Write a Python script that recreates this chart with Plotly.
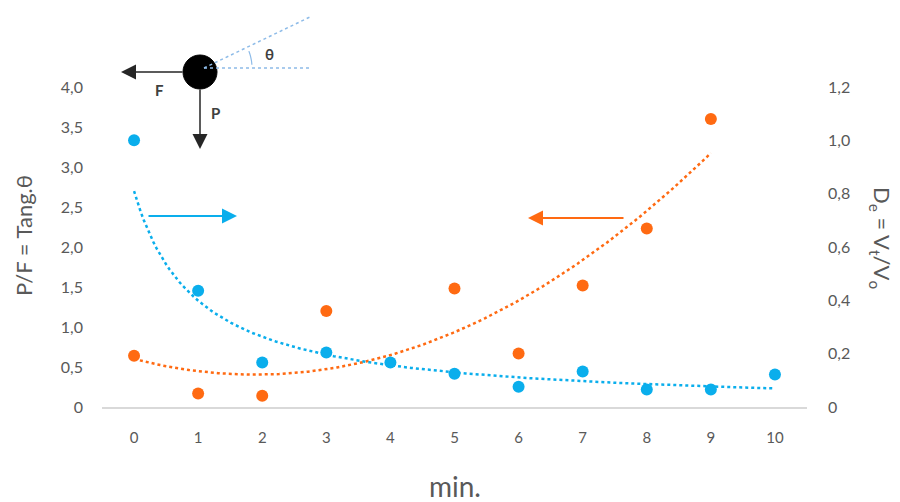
import numpy as np
import plotly.graph_objects as go

# ---- data ----
minutes = [0, 1, 2, 3, 4, 5, 6, 7, 8, 9, 10]
tan_theta = [0.64, 0.17, 0.14, 1.20, None, 1.48, 0.67, 1.52, 2.23, 3.60, None]   # left axis (orange)
de_ratio = [1.00, 0.436, 0.167, 0.204, 0.167, 0.125, 0.076, 0.133, 0.066, 0.066, 0.122]  # right axis (blue)
left_ticks = [0, 0.5, 1.0, 1.5, 2.0, 2.5, 3.0, 3.5, 4.0]
left_ticktext = ["0", "0,5", "1,0", "1,5", "2,0", "2,5", "3,0", "3,5", "4,0"]
right_ticks = [0, 0.2, 0.4, 0.6, 0.8, 1.0, 1.2]
right_ticktext = ["0", "0,2", "0,4", "0,6", "0,8", "1,0", "1,2"]

BLUE = "#0AAEEC"
ORANGE = "#FF6A12"
GREY = "#595959"
FONT = "Lato"

# ---- trendlines (fitted from the data, Excel-style with x index = minute+1) ----
bx = np.array(minutes, dtype=float) + 1
by = np.array(de_ratio, dtype=float)
b, lna = np.polyfit(np.log(bx), np.log(by), 1)
xb = np.linspace(0, 10, 200)
yb = np.exp(lna) * (xb + 1) ** b

ox = np.array([m for m, v in zip(minutes, tan_theta) if v is not None], dtype=float)
oy = np.array([v for v in tan_theta if v is not None], dtype=float)
pc = np.polyfit(ox, oy, 2)
xo = np.linspace(0, 9, 200)
yo = np.polyval(pc, xo)

fig = go.Figure()
fig.add_trace(go.Scatter(x=xo, y=yo, mode="lines", line=dict(color=ORANGE, width=2.5, dash="dot"),
                         yaxis="y", hoverinfo="skip", showlegend=False))
fig.add_trace(go.Scatter(x=minutes, y=tan_theta, mode="markers", marker=dict(color=ORANGE, size=12),
                         yaxis="y", showlegend=False, name="P/F"))
fig.add_trace(go.Scatter(x=xb, y=yb, mode="lines", line=dict(color=BLUE, width=2.5, dash="dot"),
                         yaxis="y2", hoverinfo="skip", showlegend=False))
fig.add_trace(go.Scatter(x=minutes, y=de_ratio, mode="markers", marker=dict(color=BLUE, size=12),
                         yaxis="y2", showlegend=False, name="De"))

# page body has an 8px margin; work in window pixels and shift
OFF = 8
FW, FH = 900 - OFF, 502 - OFF
L, R, T, B = 102, 807, 87, 407
W, H = R - L, B - T


def px(x):
    return (x - L) / W


def py(y):
    return (B - y) / H


shapes = []
# ball
shapes.append(dict(type="circle", xref="paper", yref="paper", x0=px(183), x1=px(217), y0=py(89), y1=py(55),
                   fillcolor="black", line=dict(color="black", width=1)))
# dotted angle lines
LB = "#8DBBE8"
shapes.append(dict(type="line", xref="paper", yref="paper", x0=px(204), y0=py(68), x1=px(312), y1=py(68),
                   line=dict(color=LB, width=1.5, dash="dot")))
shapes.append(dict(type="line", xref="paper", yref="paper", x0=px(204), y0=py(68), x1=px(312), y1=py(16),
                   line=dict(color=LB, width=1.5, dash="dot")))
ang = np.linspace(np.radians(4), np.radians(21), 8)
pts = [(px(205 + 47 * np.cos(a)), py(68 - 47 * np.sin(a))) for a in ang]
path = "M " + " L ".join(f"{x:.5f},{y:.5f}" for x, y in pts)
shapes.append(dict(type="path", xref="paper", yref="paper", path=path, line=dict(color=LB, width=1.2)))

annotations = []


def arrow(tip, tail, color, width, size):
    return dict(xref="paper", yref="paper", x=px(tip[0]), y=py(tip[1]), ax=tail[0] - tip[0], ay=tail[1] - tip[1],
                text="", showarrow=True, arrowhead=2, arrowsize=size, arrowwidth=width, arrowcolor=color,
                standoff=0, startstandoff=0)


annotations.append(arrow((237, 216), (147, 216), BLUE, 2, 1.5))
annotations.append(arrow((528, 218), (625, 218), ORANGE, 2, 1.5))
annotations.append(arrow((121, 72), (184, 72), "#262626", 1.5, 2))
annotations.append(arrow((200, 149), (200, 88), "#262626", 1.5, 2))


def label(txt, x, y, size, color=GREY, angle=0, bold=False):
    return dict(xref="paper", yref="paper", x=px(x), y=py(y), text=f"<b>{txt}</b>" if bold else txt,
                showarrow=False, font=dict(family=FONT, size=size, color=color), textangle=angle,
                xanchor="center", yanchor="middle")


annotations.append(label("F", 159, 90, 15, "#404040", bold=True))
annotations.append(label("P", 215, 113, 15, "#404040", bold=True))
annotations.append(label("θ", 269, 54, 15, "#404040", bold=True))
annotations.append(label("P/F = Tang.θ", 23, 236, 22, angle=-90))
annotations.append(label("D<sub>e</sub> = V<sub>t</sub>/V<sub>o</sub>", 881, 238, 22, angle=90))
annotations.append(label("min.", 455, 486, 28))

fig.update_layout(
    width=FW, height=FH,
    margin=dict(l=L - OFF, r=900 - R, t=T - OFF, b=502 - B),
    paper_bgcolor="white", plot_bgcolor="white",
    font=dict(family=FONT, size=16, color=GREY),
    xaxis=dict(range=[-0.5, 10.5], tickvals=minutes, ticktext=[str(m) for m in minutes],
               showgrid=False, zeroline=False, showline=True, linecolor="#D9D9D9", linewidth=1.5,
               ticks="", ticklabelstandoff=16, tickfont=dict(size=15)),
    yaxis=dict(range=[0, 4], tickvals=left_ticks, ticktext=left_ticktext, showgrid=False, zeroline=False,
               showline=False, ticks="", ticklabelstandoff=18, tickfont=dict(size=16)),
    yaxis2=dict(range=[0, 1.2], tickvals=right_ticks, ticktext=right_ticktext, overlaying="y", side="right",
                showgrid=False, zeroline=False, showline=False, ticks="", ticklabelstandoff=20,
                tickfont=dict(size=16)),
    shapes=shapes, annotations=annotations, showlegend=False,
)

fig.write_html("out.html")
